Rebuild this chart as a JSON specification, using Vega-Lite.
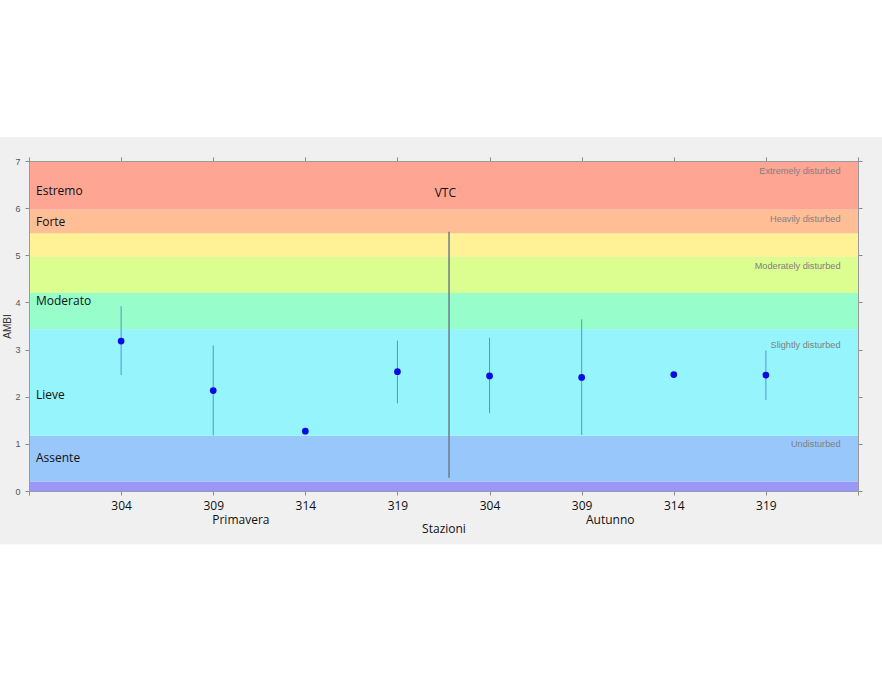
{
  "$schema": "https://vega.github.io/schema/vega-lite/v6.json",
  "width": 829,
  "height": 330,
  "autosize": {"type": "none"},
  "padding": {"left": 29, "top": 161, "right": 24, "bottom": 191},
  "background": "white",
  "config": {
    "view": {"stroke": null},
    "font": "Open Sans",
    "axis": {"grid": false, "domainColor": "#9a9a9a", "tickColor": "#8a8a8a", "tickSize": 4, "titleFontWeight": "normal"}
  },
  "datasets": {
    "bands": [
      {"level": "Normal", "lo": 0, "hi": 0.2},
      {"level": "Impoverished", "lo": 0.2, "hi": 1.17},
      {"level": "Unbalanced", "lo": 1.17, "hi": 3.43},
      {"level": "Transitional", "lo": 3.43, "hi": 4.2},
      {"level": "Polluted", "lo": 4.2, "hi": 4.97},
      {"level": "Transitional to heavy", "lo": 4.97, "hi": 5.47},
      {"level": "Heavily polluted", "lo": 5.47, "hi": 5.97},
      {"level": "Azoic", "lo": 5.97, "hi": 7}
    ],
    "stations": [
      {"pos": 1, "station": "304", "season": "Primavera", "ambi": 3.18, "lo": 2.46, "hi": 3.92},
      {"pos": 2, "station": "309", "season": "Primavera", "ambi": 2.13, "lo": 1.18, "hi": 3.09},
      {"pos": 3, "station": "314", "season": "Primavera", "ambi": 1.27, "lo": null, "hi": null},
      {"pos": 4, "station": "319", "season": "Primavera", "ambi": 2.53, "lo": 1.86, "hi": 3.19},
      {"pos": 5, "station": "304", "season": "Autunno", "ambi": 2.44, "lo": 1.65, "hi": 3.25},
      {"pos": 6, "station": "309", "season": "Autunno", "ambi": 2.41, "lo": 1.19, "hi": 3.64},
      {"pos": 7, "station": "314", "season": "Autunno", "ambi": 2.47, "lo": null, "hi": null},
      {"pos": 8, "station": "319", "season": "Autunno", "ambi": 2.46, "lo": 1.93, "hi": 2.98}
    ],
    "leftLabels": [
      {"label": "Estremo", "y": 6.37},
      {"label": "Forte", "y": 5.71},
      {"label": "Moderato", "y": 4.04},
      {"label": "Lieve", "y": 2.03},
      {"label": "Assente", "y": 0.7}
    ],
    "rightLabels": [
      {"label": "Extremely disturbed", "y": 6.78},
      {"label": "Heavily disturbed", "y": 5.78},
      {"label": "Moderately disturbed", "y": 4.78},
      {"label": "Slightly disturbed", "y": 3.09},
      {"label": "Undisturbed", "y": 1.0}
    ],
    "seasons": [
      {"season": "Primavera", "x": 2.3, "y": -0.61},
      {"season": "Autunno", "x": 6.31, "y": -0.61}
    ],
    "vtc": [
      {"label": "VTC", "x": 4.56, "lo": 0.28, "hi": 5.5, "tx": 4.52, "ty": 6.32}
    ]
  },
  "resolve": {"axis": {"x": "independent", "y": "independent"}},
  "layer": [
    {
      "data": {"values": [{}]},
      "mark": {"type": "rect", "fill": "#f0f0f0", "clip": false},
      "encoding": {
        "x": {"datum": -0.32, "type": "quantitative", "scale": {"domain": [0, 9]}, "axis": null},
        "x2": {"datum": 9.27},
        "y": {"datum": -1.13, "type": "quantitative", "scale": {"domain": [0, 7]}, "axis": null},
        "y2": {"datum": 7.51}
      }
    },
    {
      "data": {"name": "bands"},
      "mark": {"type": "rect"},
      "encoding": {
        "x": {"datum": 0, "type": "quantitative", "scale": {"domain": [0, 9]},
          "axis": {"orient": "bottom", "zindex": 2, "values": [0, 1, 2, 3, 4, 5, 6, 7, 8, 9],
            "labelExpr": "['', '304', '309', '314', '319', '304', '309', '314', '319', ''][datum.value]",
            "labelFontSize": 12, "labelColor": "#111", "labelPadding": 5,
            "title": "Stazioni", "titleFontSize": 12, "titleColor": "#111", "titlePadding": 12}},
        "x2": {"datum": 9},
        "y": {"field": "lo", "type": "quantitative", "scale": {"domain": [0, 7]},
          "axis": {"orient": "left", "zindex": 2, "values": [0, 1, 2, 3, 4, 5, 6, 7], "labelFontSize": 9, "labelColor": "#555",
            "labelFont": "Liberation Sans", "labelPadding": 5,
            "title": "AMBI", "titleFontSize": 10, "titleColor": "#333", "titleFont": "Liberation Sans", "titlePadding": 2}},
        "y2": {"field": "hi"},
        "color": {"field": "level", "type": "nominal", "legend": null,
          "scale": {"domain": ["Normal", "Impoverished", "Unbalanced", "Transitional", "Polluted", "Transitional to heavy", "Heavily polluted", "Azoic"],
            "range": ["#9a97f8", "#98c7fb", "#96f4fc", "#96fdcb", "#dcfd90", "#fff196", "#ffbe96", "#ffa594"]}}
      }
    },
    {
      "data": {"name": "vtc"},
      "mark": {"type": "rule", "color": "#6c7c88", "strokeWidth": 1.5},
      "encoding": {
        "x": {"field": "x", "type": "quantitative",
          "axis": {"orient": "top", "zindex": 2, "values": [0, 1, 2, 3, 4, 5, 6, 7, 8, 9], "labels": false, "title": null}},
        "y": {"field": "lo", "type": "quantitative",
          "axis": {"orient": "right", "zindex": 2, "values": [0, 1, 2, 3, 4, 5, 6, 7], "labels": false, "title": null}},
        "y2": {"field": "hi"}
      }
    },
    {
      "data": {"name": "stations"},
      "transform": [{"filter": "datum.lo != null"}],
      "mark": {"type": "rule", "color": "#4f98c6", "strokeWidth": 1},
      "encoding": {
        "x": {"field": "pos", "type": "quantitative", "axis": null},
        "y": {"field": "lo", "type": "quantitative", "axis": null},
        "y2": {"field": "hi"}
      }
    },
    {
      "data": {"name": "stations"},
      "mark": {"type": "point", "filled": true, "color": "#0a0ae6", "size": 45, "opacity": 1},
      "encoding": {
        "x": {"field": "pos", "type": "quantitative", "axis": null},
        "y": {"field": "ambi", "type": "quantitative", "axis": null}
      }
    },
    {
      "data": {"name": "leftLabels"},
      "mark": {"type": "text", "align": "left", "baseline": "middle", "fontSize": 12, "color": "#111", "font": "Open Sans"},
      "encoding": {
        "x": {"datum": 0.076, "type": "quantitative", "axis": null},
        "y": {"field": "y", "type": "quantitative", "axis": null},
        "text": {"field": "label"}
      }
    },
    {
      "data": {"name": "rightLabels"},
      "mark": {"type": "text", "align": "right", "baseline": "middle", "fontSize": 9.2, "color": "#808080", "font": "Liberation Sans"},
      "encoding": {
        "x": {"datum": 8.81, "type": "quantitative", "axis": null},
        "y": {"field": "y", "type": "quantitative", "axis": null},
        "text": {"field": "label"}
      }
    },
    {
      "data": {"name": "vtc"},
      "mark": {"type": "text", "align": "center", "baseline": "middle", "fontSize": 12, "color": "#111", "font": "Open Sans"},
      "encoding": {
        "x": {"field": "tx", "type": "quantitative", "axis": null},
        "y": {"field": "ty", "type": "quantitative", "axis": null},
        "text": {"field": "label"}
      }
    },
    {
      "data": {"name": "seasons"},
      "mark": {"type": "text", "align": "center", "baseline": "middle", "fontSize": 12, "color": "#111", "font": "Open Sans", "clip": false},
      "encoding": {
        "x": {"field": "x", "type": "quantitative", "axis": null},
        "y": {"field": "y", "type": "quantitative", "axis": null},
        "text": {"field": "season"}
      }
    }
  ]
}
